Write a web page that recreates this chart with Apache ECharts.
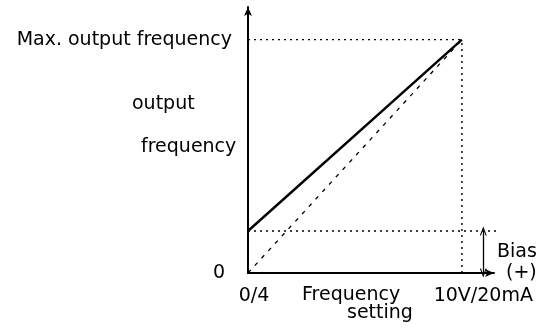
<!DOCTYPE html>
<html>
<head>
<meta charset="utf-8">
<script src="https://cdn.jsdelivr.net/npm/echarts@6/dist/echarts.min.js"></script>
<style>
  html, body { margin: 0; padding: 0; background: #fff; }
  #chart { width: 542px; height: 330px; }
</style>
</head>
<body>
<div id="chart"></div>
<script>
// Frequency setting (%) vs output frequency (%) with a positive bias
const biasLevel = 18;
const maxLevel = 100;

const biasedCurveX = [0, 100];
const biasedCurveY = [18, 100];

const referenceCurveX = [0, 100];
const referenceCurveY = [0, 100];

const maxGuideX = [0, 100];
const maxGuideY = [100, 100];
const fullScaleGuideX = [100, 100];
const fullScaleGuideY = [0, 100];
const biasGuideX = [0, 120];
const biasGuideY = [18, 18];
const biasMarkerX = 110;

const xTickValues = [0, 110];
const xTickLabels = ['0/4', '10V/20mA'];
const yTickValues = [0, 100];
const yTickLabels = ['0', 'Max. output frequency'];

const FONT = 'DejaVu Sans';
const INK = '#000';

function pairs(xs, ys) {
  return xs.map((x, i) => [x, ys[i]]);
}

const chevron = 'path://M0,10 L5,0 L10,10 L8.4,10 L5,3.2 L1.6,10 Z';

const chart = echarts.init(document.getElementById('chart'), null, { renderer: 'canvas' });

const dotted = { color: INK, width: 1.4, type: [2, 4] };

chart.setOption({
  animation: false,
  backgroundColor: '#fff',
  grid: { left: 248, top: 7, width: 246, height: 266 },
  xAxis: {
    type: 'value', min: 0, max: 115,
    splitLine: { show: false },
    axisTick: { show: false },
    axisLine: {
      onZero: false,
      lineStyle: { color: INK, width: 2 },
      symbol: ['none', 'arrow'], symbolSize: [6, 9]
    },
    axisLabel: {
      customValues: xTickValues,
      margin: 14,
      color: INK, fontFamily: FONT, fontSize: 19,
      formatter: v => {
        const i = xTickValues.indexOf(v);
        return (i === 0 ? '{a|' : '{t|') + xTickLabels[i] + '}';
      },
      rich: {
        t: { fontFamily: FONT, fontSize: 19, color: INK },
        a: { fontFamily: FONT, fontSize: 19, color: INK, padding: [0, 0, 0, 12] }
      }
    }
  },
  yAxis: {
    type: 'value', min: 0, max: 114,
    splitLine: { show: false },
    axisTick: { show: false },
    axisLine: {
      onZero: false,
      lineStyle: { color: INK, width: 2 },
      symbol: ['none', 'arrow'], symbolSize: [6, 9]
    },
    axisLabel: {
      customValues: yTickValues,
      margin: 16,
      color: INK, fontFamily: FONT, fontSize: 19,
      formatter: v => v === 0 ? '{z|' + yTickLabels[0] + '}' : '{t|' + yTickLabels[1] + '}',
      rich: {
        t: { fontFamily: FONT, fontSize: 19, color: INK },
        z: { fontFamily: FONT, fontSize: 19, color: INK, padding: [0, 7, 0, 0] }
      }
    }
  },
  series: [
    {
      type: 'line', data: pairs(maxGuideX, maxGuideY), symbol: 'none',
      lineStyle: dotted, silent: true
    },
    {
      type: 'line', data: pairs(fullScaleGuideX, fullScaleGuideY), symbol: 'none',
      lineStyle: dotted, silent: true
    },
    {
      type: 'line', data: pairs(biasGuideX, biasGuideY), symbol: 'none', clip: false,
      lineStyle: dotted, silent: true
    },
    {
      type: 'line', data: pairs(referenceCurveX, referenceCurveY), symbol: 'none',
      lineStyle: { color: INK, width: 1.3, type: [4, 6] }, silent: true
    },
    {
      type: 'line', data: pairs(biasedCurveX, biasedCurveY), symbol: 'none',
      lineStyle: { color: INK, width: 2.4 }, silent: true
    },
    {
      type: 'line', data: [], symbol: 'none', clip: false, silent: true,
      markLine: {
        silent: true,
        symbol: [chevron, chevron],
        symbolSize: [7, 9],
        label: { show: false },
        lineStyle: { color: INK, width: 1.3, type: 'solid' },
        data: [[{ coord: [biasMarkerX, 0] }, { coord: [biasMarkerX, biasLevel] }]]
      }
    }
  ],
  graphic: [
    { type: 'text', left: 132, top: 95, style: { text: 'output', font: '19px "DejaVu Sans"', fill: INK } },
    { type: 'text', left: 141, top: 138, style: { text: 'frequency', font: '19px "DejaVu Sans"', fill: INK } },
    { type: 'text', left: 302, top: 286, style: { text: 'Frequency', font: '19px "DejaVu Sans"', fill: INK } },
    { type: 'text', left: 347, top: 304, style: { text: 'setting', font: '19px "DejaVu Sans"', fill: INK } },
    { type: 'text', left: 497, top: 243, style: { text: 'Bias', font: '19px "DejaVu Sans"', fill: INK } },
    { type: 'text', left: 506, top: 264, style: { text: '(+)', font: '19px "DejaVu Sans"', fill: INK } }
  ]
});
</script>
</body>
</html>
